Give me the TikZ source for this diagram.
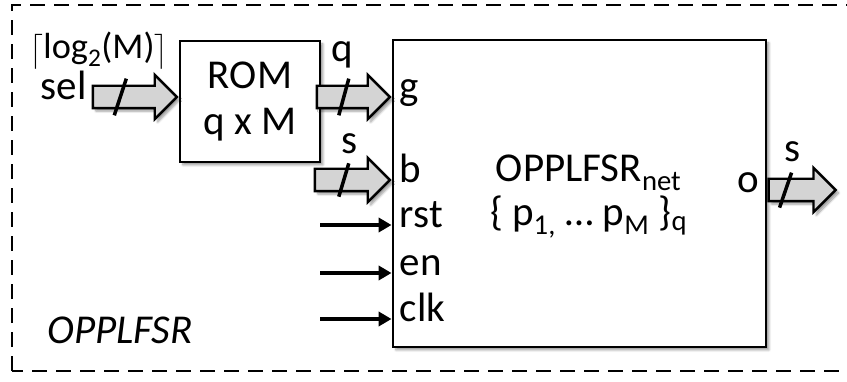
\documentclass[tikz,border=0pt]{standalone}
\usepackage{amsmath}
\usepackage{fontspec}
\setmainfont{Carlito}
\usepackage{tikz}
\usetikzlibrary{arrows.meta, positioning, shapes.arrows, shadows.blur}

\newcommand{\lblfont}{\fontsize{35}{42}\selectfont}

\tikzset{
  every node/.style={font=\lblfont},
  softshadow/.style={blur shadow={shadow xshift=2.5pt, shadow yshift=-2.5pt, shadow blur steps=6, shadow opacity=40}},
  blk/.style={draw, line width=2.5pt, fill=white, softshadow},
  bus/.style={single arrow, draw, line width=2pt, fill=black!17, inner xsep=0pt, inner ysep=0.3cm,
    minimum width=0pt, single arrow head extend=0.33cm, anchor=tip, softshadow},
  sig/.style={line width=3pt, -{Triangle[length=11pt, width=12pt]}},
  slash/.style={line width=3pt, black},
  frame/.style={line width=2.5pt, dash pattern=on 0.45cm off 0.27cm}
}

\begin{document}
\begin{tikzpicture}
  \useasboundingbox (0,0) rectangle (25.41,11.43);

  % outer dashed frame
  \draw[frame] (0.36,0.30) rectangle (25.9,11.28);
  \node[font=\lblfont\itshape] (name) at (3.6,1.53) {OPPLFSR};

  % blocks
  \node[blk, minimum width=4.2cm, minimum height=3.63cm, align=center] (rom) at (7.5,8.385) {ROM\\[-2pt]q x M};
  \node[blk, minimum width=11.19cm, minimum height=9.21cm] (core) at (17.385,5.625) {};

  % ports on the core
  \coordinate (pg)   at (core.west |- 0,8.52);
  \coordinate (pb)   at (core.west |- 0,6.03);
  \coordinate (prst) at (core.west |- 0,4.68);
  \coordinate (pen)  at (core.west |- 0,3.24);
  \coordinate (pclk) at (core.west |- 0,1.86);
  \coordinate (po)   at (core.east |- 0,5.73);

  % buses
  \node[bus, minimum height=2.52cm] (selbus) at (rom.west |- pg) {};
  \node[bus, minimum height=2.19cm] (qbus) at (pg) {};
  \node[bus, minimum height=2.25cm] (bbus) at (pb) {};
  \node[bus, minimum height=2.01cm, anchor=tail] (obus) at (po) {};

  \draw[slash] ([xshift=-0.27cm]selbus.center) ++(-0.18,-0.55) -- ++(0.36,1.1);
  \draw[slash] ([xshift=-0.12cm]qbus.center) ++(-0.15,-0.55) -- ++(0.3,1.1);
  \draw[slash] ([xshift=-0.09cm]bbus.center) ++(-0.15,-0.5) -- ++(0.3,1.0);
  \draw[slash] ([xshift=-0.33cm]obus.center) ++(-0.18,-0.53) -- ++(0.36,1.05);

  % bus labels
  \node[anchor=mid east, inner xsep=4pt] (sel) at (selbus.tail) {sel};
  \node[anchor=base, font=\fontsize{31}{36}\selectfont] (width) at (2.97,9.66) {$\bigl\lceil\text{log}_{\text{2}}\text{(M)}\bigr\rceil$};
  \node[anchor=base] (qlab) at ([xshift=-0.18cm, yshift=1.05cm]qbus.center) {q};
  \node[anchor=base] (slab) at ([xshift=0.09cm, yshift=0.78cm]bbus.center) {s};
  \node[anchor=base] (olab) at ([xshift=-0.12cm, yshift=0.85cm]obus.center) {s};

  % control inputs
  \coordinate (rstin) at (9.6,4.68);
  \coordinate (enin)  at (9.6,3.24);
  \coordinate (clkin) at (9.6,1.86);
  \draw[sig] (rstin) -- (prst);
  \draw[sig] (enin) -- (pen);
  \draw[sig] (clkin) -- (pclk);

  % port names
  \node[anchor=mid west, inner xsep=7pt] (gname) at (pg) {g};
  \node[anchor=mid west, inner xsep=7pt] (bname) at (pb) {b};
  \node[anchor=mid west, inner xsep=7pt] (rstname) at (prst) {rst};
  \node[anchor=mid west, inner xsep=7pt] (enname) at (pen) {en};
  \node[anchor=mid west, inner xsep=7pt] (clkname) at (pclk) {clk};
  \node[anchor=mid east, inner xsep=7pt] (oname) at (po) {o};

  % core contents
  \node[anchor=base] (title) at (17.66,5.97) {OPPLFSR\textsubscript{net}};
  \node[anchor=base] (poly) at (17.66,4.65) {\{ p\textsubscript{1,} … p\textsubscript{M} \}\textsubscript{q}};
\end{tikzpicture}
\end{document}
